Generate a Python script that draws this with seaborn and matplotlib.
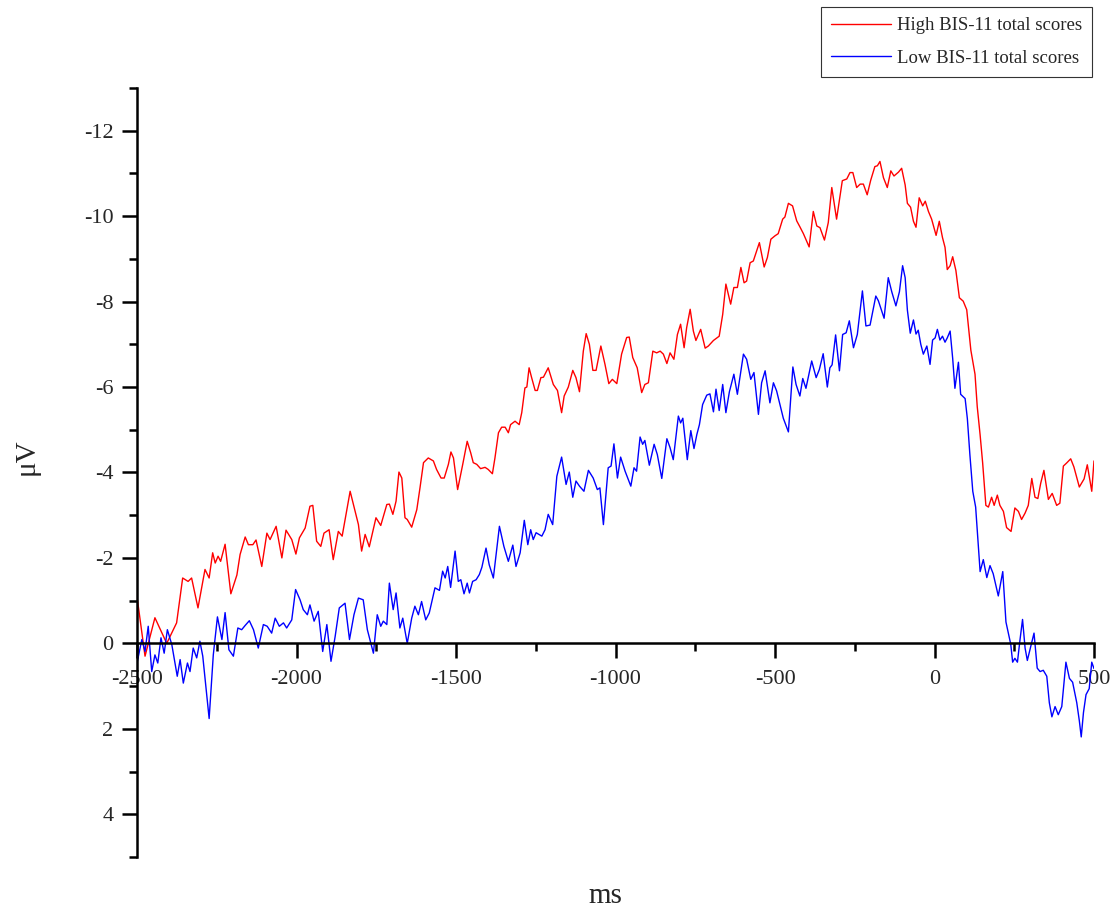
import pandas as pd
import seaborn as sns
import matplotlib.pyplot as plt
from matplotlib.ticker import MultipleLocator

# ERP waveforms (time in ms, amplitude in microvolts)
red_ms = [-2499, -2475, -2444, -2407, -2391, -2376, -2357, -2340, -2329, -2309,
          -2287, -2274, -2263, -2255, -2246, -2238, -2224, -2206, -2187, -2177,
          -2161, -2151, -2137, -2127, -2109, -2093, -2083, -2064, -2046, -2033,
          -2015, -2002, -1991, -1973, -1958, -1949, -1937, -1924, -1914, -1898,
          -1885, -1869, -1857, -1832, -1806, -1796, -1785, -1772, -1751, -1736,
          -1717, -1709, -1698, -1688, -1679, -1670, -1660, -1653, -1639, -1623,
          -1613, -1602, -1587, -1571, -1561, -1547, -1537, -1524, -1516, -1508,
          -1495, -1479, -1465, -1454, -1446, -1435, -1423, -1409, -1399, -1386,
          -1378, -1367, -1357, -1346, -1336, -1329, -1315, -1302, -1294, -1284,
          -1278, -1271, -1263, -1252, -1245, -1234, -1226, -1211, -1195, -1182,
          -1169, -1161, -1148, -1134, -1124, -1113, -1101, -1092, -1082, -1071,
          -1061, -1046, -1033, -1021, -1010, -996, -981, -965, -957, -946,
          -932, -918, -908, -897, -883, -871, -860, -850, -839, -829,
          -817, -806, -796, -785, -777, -766, -756, -748, -733, -719,
          -709, -693, -675, -664, -654, -639, -629, -618, -607, -597,
          -589, -578, -568, -549, -534, -524, -513, -500, -490, -476,
          -469, -458, -445, -432, -422, -411, -393, -380, -369, -359,
          -345, -333, -322, -307, -289, -275, -265, -256, -244, -233,
          -223, -211, -200, -187, -179, -171, -160, -148, -137, -127,
          -113, -103, -92, -85, -75, -66, -58, -48, -37, -29,
          -19, -9, 5, 15, 25, 33, 40, 49, 57, 67,
          78, 90, 101, 114, 127, 134, 143, 151, 161, 169,
          179, 187, 197, 205, 216, 226, 240, 252, 263, 273,
          284, 294, 305, 315, 324, 333, 343, 357, 369, 383,
          393, 404, 414, 427, 437, 454, 469, 479, 493, 500]
red_uv = [-1.03, 0.30, -0.60, 0.00, -0.25, -0.48, -1.53, -1.45, -1.53, -0.83,
          -1.73, -1.53, -2.12, -1.88, -2.04, -1.92, -2.32, -1.16, -1.60, -2.08,
          -2.49, -2.31, -2.31, -2.42, -1.80, -2.58, -2.43, -2.74, -2.00, -2.65,
          -2.43, -2.09, -2.47, -2.70, -3.21, -3.23, -2.39, -2.27, -2.58, -2.66,
          -1.96, -2.62, -2.51, -3.56, -2.78, -2.16, -2.55, -2.26, -2.94, -2.76,
          -3.25, -3.26, -3.02, -3.33, -4.01, -3.87, -2.94, -2.90, -2.72, -3.13,
          -3.64, -4.23, -4.34, -4.27, -4.07, -3.87, -3.87, -4.19, -4.48, -4.34,
          -3.60, -4.19, -4.73, -4.46, -4.23, -4.19, -4.09, -4.12, -4.07, -3.97,
          -4.34, -4.93, -5.06, -5.06, -4.93, -5.12, -5.20, -5.12, -5.40, -5.98,
          -6.00, -6.45, -6.22, -5.92, -5.92, -6.22, -6.23, -6.45, -6.06, -5.92,
          -5.40, -5.79, -6.00, -6.39, -6.22, -5.89, -6.84, -7.25, -7.00, -6.39,
          -6.39, -6.96, -6.53, -6.08, -6.18, -6.08, -6.77, -7.16, -7.17, -6.69,
          -6.45, -5.87, -6.06, -6.10, -6.84, -6.80, -6.84, -6.77, -6.55, -6.80,
          -6.65, -7.23, -7.47, -6.92, -7.39, -7.82, -7.31, -7.09, -7.35, -6.91,
          -6.96, -7.09, -7.19, -7.70, -8.41, -7.94, -8.33, -8.33, -8.80, -8.44,
          -8.48, -8.91, -8.95, -9.38, -8.81, -9.03, -9.46, -9.54, -9.59, -9.93,
          -9.98, -10.30, -10.24, -9.89, -9.75, -9.59, -9.28, -10.11, -9.77, -9.73,
          -9.44, -9.85, -10.67, -9.93, -10.83, -10.87, -11.02, -11.02, -10.67, -10.75,
          -10.75, -10.50, -10.84, -11.16, -11.18, -11.28, -10.90, -10.67, -11.06, -10.94,
          -11.03, -11.12, -10.73, -10.30, -10.21, -9.88, -9.74, -10.43, -10.24, -10.35,
          -10.11, -9.93, -9.55, -9.88, -9.50, -9.27, -8.75, -8.84, -9.05, -8.73,
          -8.09, -8.01, -7.81, -6.86, -6.30, -5.54, -4.88, -4.22, -3.23, -3.19,
          -3.42, -3.23, -3.47, -3.23, -3.09, -2.71, -2.62, -3.17, -3.09, -2.90,
          -3.05, -3.23, -3.86, -3.42, -3.39, -3.75, -4.05, -3.37, -3.51, -3.23,
          -3.28, -4.15, -4.22, -4.32, -4.13, -3.66, -3.85, -4.18, -3.56, -4.27]

blue_ms = [-2499, -2485, -2475, -2465, -2454, -2444, -2435, -2425, -2415, -2405,
           -2391, -2374, -2365, -2355, -2342, -2334, -2324, -2313, -2303, -2294,
           -2274, -2261, -2248, -2234, -2224, -2212, -2198, -2184, -2172, -2161,
           -2148, -2135, -2120, -2104, -2092, -2078, -2067, -2054, -2041, -2031,
           -2015, -2003, -1989, -1979, -1966, -1958, -1945, -1932, -1918, -1905,
           -1892, -1879, -1866, -1848, -1834, -1820, -1806, -1791, -1778, -1759,
           -1747, -1736, -1728, -1717, -1709, -1697, -1688, -1676, -1667, -1653,
           -1639, -1629, -1618, -1608, -1595, -1584, -1566, -1552, -1542, -1534,
           -1526, -1517, -1503, -1493, -1485, -1475, -1465, -1458, -1448, -1437,
           -1427, -1419, -1406, -1396, -1383, -1364, -1350, -1336, -1322, -1312,
           -1299, -1286, -1275, -1266, -1258, -1249, -1231, -1221, -1211, -1197,
           -1184, -1169, -1155, -1145, -1134, -1124, -1113, -1099, -1085, -1070,
           -1057, -1049, -1038, -1023, -1014, -1005, -994, -984, -970, -952,
           -942, -934, -923, -915, -908, -894, -879, -869, -855, -839,
           -829, -819, -803, -796, -789, -775, -764, -754, -745, -737,
           -727, -714, -704, -693, -685, -675, -664, -654, -643, -629,
           -618, -599, -589, -576, -566, -552, -542, -531, -516, -505,
           -495, -474, -458, -444, -434, -422, -413, -403, -385, -371,
           -361, -349, -336, -328, -321, -310, -298, -288, -277, -267,
           -254, -242, -226, -215, -202, -184, -176, -169, -158, -145,
           -134, -121, -110, -100, -92, -85, -76, -66, -58, -51,
           -43, -35, -24, -14, -6, 2, 9, 17, 25, 33,
           40, 49, 57, 64, 75, 82, 96, 103, 111, 120,
           129, 143, 153, 164, 174, 184, 200, 214, 224, 239,
           245, 252, 260, 268, 276, 284, 291, 302, 312, 322,
           331, 341, 352, 360, 368, 378, 388, 399, 412, 423,
           433, 446, 454, 460, 467, 475, 485, 493, 500]
blue_uv = [0.42, -0.09, 0.19, -0.40, 0.66, 0.27, 0.46, -0.13, 0.23, -0.32,
           0.03, 0.77, 0.38, 0.93, 0.46, 0.66, 0.11, 0.34, -0.05, 0.30,
           1.76, 0.27, -0.62, -0.09, -0.72, 0.15, 0.30, -0.36, -0.32, -0.42,
           -0.53, -0.32, 0.11, -0.44, -0.40, -0.24, -0.59, -0.40, -0.48, -0.36,
           -0.55, -1.26, -1.02, -0.79, -0.67, -0.90, -0.52, -0.75, 0.19, -0.44,
           0.42, -0.16, -0.83, -0.94, -0.09, -0.67, -1.06, -1.02, -0.32, 0.23,
           -0.67, -0.40, -0.52, -0.44, -1.41, -0.79, -1.18, -0.36, -0.59, 0.00,
           -0.59, -0.87, -0.67, -0.98, -0.55, -0.71, -1.30, -1.24, -1.69, -1.53,
           -1.80, -1.31, -2.16, -1.45, -1.49, -1.16, -1.41, -1.18, -1.45, -1.49,
           -1.61, -1.78, -2.23, -1.84, -1.53, -2.74, -2.27, -1.92, -2.30, -1.80,
           -2.12, -2.88, -2.31, -2.66, -2.43, -2.59, -2.51, -2.66, -3.02, -2.78,
           -3.91, -4.36, -3.72, -4.01, -3.42, -3.80, -3.68, -3.56, -4.05, -3.87,
           -3.60, -3.64, -2.78, -4.11, -4.15, -4.67, -3.87, -4.36, -4.03, -3.68,
           -4.11, -4.03, -4.83, -4.66, -4.75, -4.17, -4.66, -4.42, -3.86, -4.79,
           -4.58, -4.30, -5.32, -5.16, -5.27, -4.30, -4.98, -4.56, -4.89, -5.12,
           -5.59, -5.81, -5.84, -5.42, -5.95, -5.45, -6.06, -5.40, -5.89, -6.30,
           -5.83, -6.77, -6.65, -6.18, -6.34, -5.36, -6.10, -6.38, -5.63, -6.10,
           -5.91, -5.27, -4.95, -6.47, -6.06, -5.79, -6.20, -5.97, -6.61, -6.22,
           -6.41, -6.78, -6.00, -6.45, -6.52, -7.22, -6.38, -7.23, -7.27, -7.55,
           -6.92, -7.23, -8.25, -7.43, -7.45, -8.13, -8.02, -7.86, -7.61, -8.56,
           -8.23, -7.90, -8.23, -8.84, -8.56, -7.80, -7.26, -7.57, -7.24, -7.33,
           -7.00, -6.77, -6.96, -6.53, -7.10, -7.15, -7.35, -7.10, -7.19, -7.05,
           -7.15, -7.31, -6.67, -5.97, -6.58, -5.83, -5.73, -5.26, -4.41, -3.56,
           -3.19, -1.68, -1.96, -1.54, -1.82, -1.63, -1.11, -1.68, -0.50, 0.02,
           0.44, 0.35, 0.44, -0.08, -0.56, 0.11, 0.40, 0.07, -0.24, 0.58,
           0.66, 0.63, 0.77, 1.39, 1.72, 1.48, 1.67, 1.48, 0.44, 0.82,
           0.91, 1.39, 1.81, 2.19, 1.62, 1.20, 1.06, 0.44, 0.59]

high = pd.DataFrame({'ms': red_ms, 'uV': red_uv})
low = pd.DataFrame({'ms': blue_ms, 'uV': blue_uv})

sns.set_style('ticks')
plt.rcParams['font.family'] = ['Liberation Serif', 'DejaVu Serif']
plt.rcParams['axes.unicode_minus'] = False

fig = plt.figure(figsize=(11.17, 9.08), dpi=100)
ax = fig.add_axes([0.1227, 0.0562, 0.8567, 0.8469])

sns.lineplot(data=high, x='ms', y='uV', ax=ax, color='#ff0000', lw=1.0,
             estimator=None, sort=False, label='High BIS-11 total scores')
sns.lineplot(data=low, x='ms', y='uV', ax=ax, color='#0000ff', lw=1.0,
             estimator=None, sort=False, label='Low BIS-11 total scores')

ax.set_xlim(-2500, 500)
ax.set_ylim(5, -13)   # negative up, ERP convention

# axes: left spine plus x axis drawn through zero
ax.spines['top'].set_visible(False)
ax.spines['right'].set_visible(False)
ax.spines['bottom'].set_position(('data', 0))
for s in ['left', 'bottom']:
    ax.spines[s].set_linewidth(1.8)
    ax.spines[s].set_color('black')

ax.xaxis.set_major_locator(MultipleLocator(500))
ax.xaxis.set_minor_locator(MultipleLocator(250))
ax.yaxis.set_major_locator(MultipleLocator(2))
ax.yaxis.set_minor_locator(MultipleLocator(1))
ax.tick_params(which='major', length=11, width=1.8, labelsize=16, direction='out', color='black')
ax.tick_params(which='minor', length=5.5, width=1.8, direction='out', color='black')
ax.tick_params(axis='x', pad=8)
ax.tick_params(axis='y', pad=6)

ax.set_xlabel('ms', fontsize=21)
ax.xaxis.set_label_coords(0.489, -0.051)
ax.xaxis.label.set_va('center')
ax.set_ylabel('μV', fontsize=21)
ax.yaxis.set_label_coords(-0.115, 0.52)
ax.yaxis.label.set_va('center')

handles, labels = ax.get_legend_handles_labels()
ax.get_legend().remove()
leg = fig.legend(handles, labels, loc='upper right', bbox_to_anchor=(1092 / 1117, 1 - 7 / 908),
                 borderaxespad=0, fontsize=13.5, handlelength=3.2, handletextpad=0.3,
                 labelspacing=0.8, borderpad=0.55, fancybox=False, framealpha=1)
leg.get_frame().set_edgecolor('#333333')
leg.get_frame().set_linewidth(0.8)

fig.savefig('out.png', dpi=100)
